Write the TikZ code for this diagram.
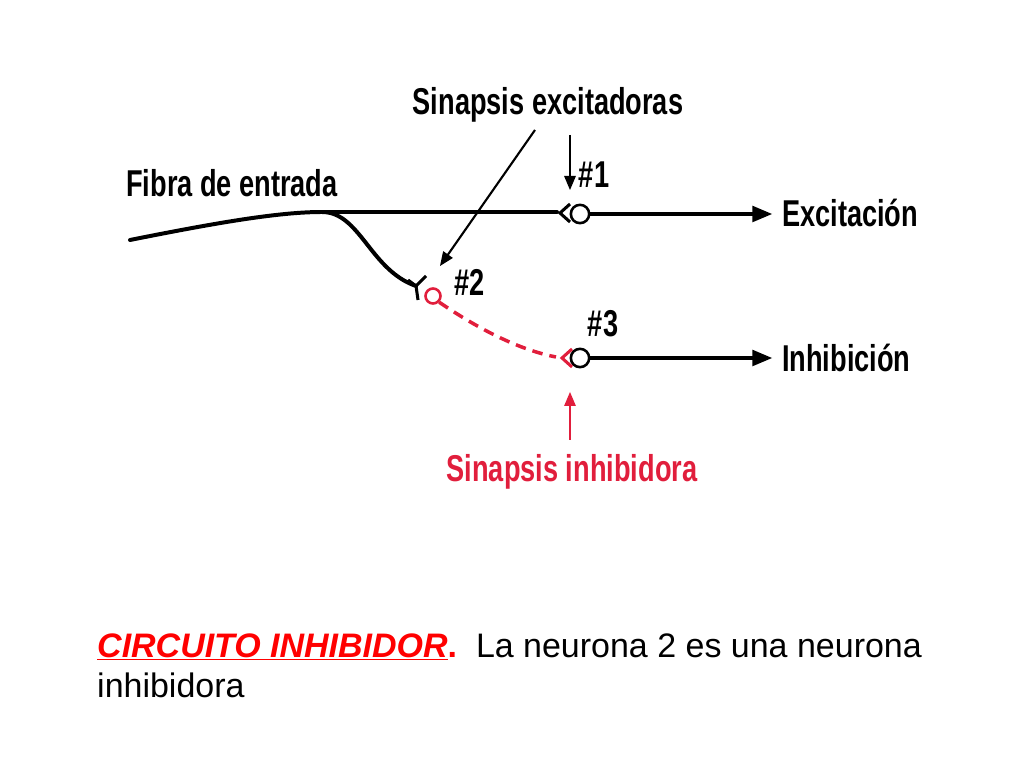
\documentclass[tikz,border=0pt]{standalone}
\usepackage{fontspec}
\setmainfont{Liberation Sans}
\usetikzlibrary{arrows}
\definecolor{synred}{RGB}{225,30,60}
\begin{document}
\begin{tikzpicture}[x=0.03cm,y=-0.03cm]
\tikzstyle{lbl}=[font=\fontsize{29}{31}\selectfont\bfseries, xscale=0.8, yscale=1.1, inner sep=0pt]
\tikzstyle{fibre}=[line width=3.4pt, line cap=round]
\tikzstyle{connect}=[-triangle 45, line width=3pt]
\tikzstyle{pointer}=[-triangle 45, line width=1.8pt]
\tikzstyle{soma}=[circle, draw, line width=2.2pt, minimum size=5.5mm, inner sep=0pt]
\useasboundingbox (0,0) rectangle (1024,768);

  % labels
  \node[lbl] (fibra) at (232,183) {Fibra de entrada};
  \node[lbl] (exc)   at (548,105) {Sinapsis excitadoras};
  \node[lbl] (n1)    at (594,175) {\#1};
  \node[lbl] (n2)    at (470,282) {\#2};
  \node[lbl] (n3)    at (603,324) {\#3};
  \node[lbl, anchor=west] (excit) at (782,213) {Excitación};
  \node[lbl, anchor=west] (inhib) at (782,358) {Inhibición};
  \node[lbl, text=synred] (inh) at (572,472) {Sinapsis inhibidora};

  % neurons
  \node[soma] (s1) at (580,214) {};
  \node[soma] (s3) at (580,358) {};
  \node[soma, draw=synred, minimum size=4.5mm] (s2) at (433,296) {};
  \coordinate (branch) at (322,212);
  \coordinate (fork) at (416,286);
  \coordinate (out1) at (772,214);
  \coordinate (out3) at (772,358);

  % fibres
  \draw[fibre] (130,240) .. controls (220,222) and (280,212) .. (branch) -- (557,212);
  \draw[fibre] (branch) .. controls (360,212) and (370,270) .. (fork);
  \draw[line width=2.6pt] (408,280) -- (fork) -- (426,276) (fork) -- (418,300);
  \draw[line width=2.6pt] (570,204) -- (560,213) -- (570,222);
  \draw[line width=2.6pt, synred] (572,349) -- (562,358) -- (572,367);
  \draw[line width=3pt, synred, dash pattern=on 9pt off 6pt]
        (s2.south east) .. controls (480,330) and (520,350) .. (556,357);

  % outputs
  \draw[connect] (s1) -- (out1);
  \draw[connect] (s3) -- (out3);

  % pointers
  \draw[pointer] (570,135) -- (570,190);
  \draw[pointer] (535,130) -- (440,266);
  \draw[pointer, synred] (570,440) -- (570,392);

  % caption
  \node[anchor=base west, inner sep=0pt, font=\fontsize{29}{31}\selectfont] (cap1) at (97,657)
    {\textcolor{red}{\textbf{\textit{\underline{CIRCUITO INHIBIDOR}}.}}\ \ La neurona 2 es una neurona};
  \node[anchor=base west, inner sep=0pt, font=\fontsize{29}{31}\selectfont] (cap2) at (97,697) {inhibidora};
\end{tikzpicture}
\end{document}
